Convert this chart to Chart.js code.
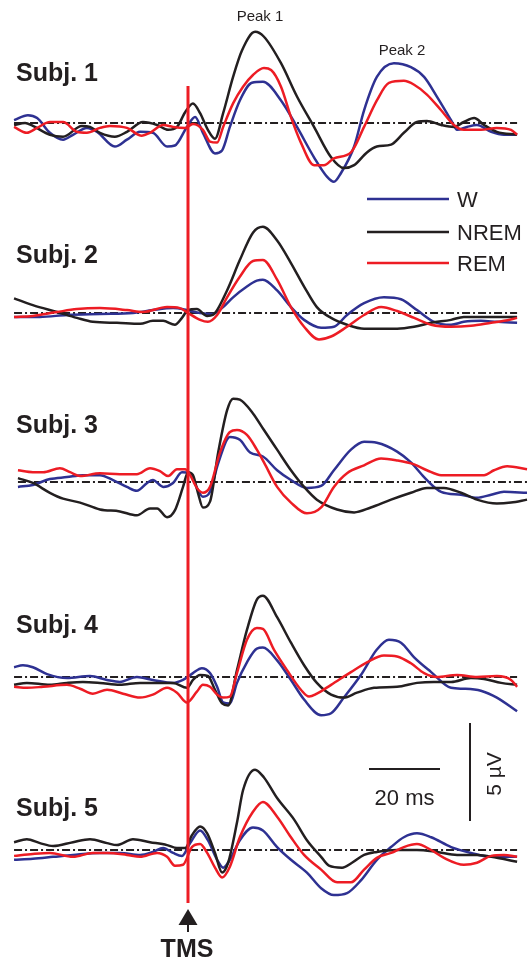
<!DOCTYPE html>
<html>
<head>
<meta charset="utf-8">
<script src="https://cdn.jsdelivr.net/npm/chart.js@4.4.1/dist/chart.umd.min.js"></script>
<style>
  html, body { margin: 0; padding: 0; background: #fff; }
  #wrap { position: relative; width: 528px; height: 964px; }
</style>
</head>
<body>
<div id="wrap"><canvas id="tep"></canvas></div>
<script>
// TMS-evoked potentials, 5 subjects x 3 vigilance states
// time in ms (0 = TMS pulse), amplitude in microvolts relative to each baseline

const subjects = ['Subj. 1', 'Subj. 2', 'Subj. 3', 'Subj. 4', 'Subj. 5'];
const states = ['W', 'NREM', 'REM'];
const peakLabels = ['Peak 1', 'Peak 2'];
const scaleTime = 20;   // ms
const scaleAmp = 5;     // µV

const subj1W = [[-49.0,0.15],[-45.1,0.4],[-42.5,0.25],[-38.9,-0.5],[-35.2,-0.85],[-32.4,-0.6],[-28.5,-0.25],[-25.6,-0.45],[-20.6,-1.2],[-17.2,-0.85],[-13.5,-0.45],[-9.9,-0.5],[-5.9,-1.2],[-3.7,-1.15],[-0.3,-0.2],[2.0,0.3],[4.2,-0.5],[7.6,-1.55],[9.6,-1.4],[11.8,-0.2],[14.6,1.15],[18.0,2.05],[21.1,2.1],[26.2,1.15],[30.7,-0.2],[35.5,-1.75],[39.2,-2.75],[41.1,-3.0],[43.1,-2.55],[46.8,-1.2],[49.6,0.65],[53.2,2.35],[58.0,3.05],[62.8,2.85],[66.5,2.35],[70.1,1.35],[74.1,0.15],[75.8,-0.35],[78.6,-0.2],[81.4,-0.1],[85.4,-0.45],[89.0,-0.6],[92.7,-0.6]];
const subj1NREM = [[-49.0,-0.1],[-45.9,0],[-43.7,-0.15],[-38.9,-0.6],[-35.2,-0.7],[-29.9,-0.15],[-27.6,-0.2],[-24.8,-0.5],[-20.6,-0.7],[-17.2,-0.45],[-12.7,0.05],[-8.7,-0.1],[-5.6,-0.35],[-3.1,-0.2],[-0.8,0.55],[1.4,1.0],[3.4,0.5],[5.6,-0.35],[7.6,-0.8],[9.9,0.5],[12.7,2.35],[15.2,3.7],[18.9,4.65],[21.4,4.4],[26.2,3.05],[30.7,1.35],[35.5,-0.2],[40.3,-1.75],[43.9,-2.3],[46.8,-2.15],[50.4,-1.5],[53.2,-1.2],[57.2,-1.1],[60.8,-0.5],[64.5,0.05],[67.3,0.1],[71.3,-0.1],[74.9,-0.2],[77.7,0.05],[80.6,0.25],[83.4,-0.1],[87.0,-0.45],[92.7,-0.6]];
const subj1REM = [[-49.0,-0.2],[-45.4,-0.5],[-42.5,-0.25],[-38.9,0.05],[-35.2,0.05],[-31.3,-0.45],[-28.5,-0.5],[-24.8,-0.25],[-22.0,-0.15],[-17.2,-0.25],[-13.0,-0.65],[-10.7,-0.5],[-7.0,-0.1],[-4.2,-0.2],[-0.8,-0.25],[1.4,-0.05],[4.2,-0.35],[6.2,-0.95],[8.2,-1.0],[9.9,-0.2],[12.7,1.0],[15.5,1.85],[18.3,2.45],[21.4,2.8],[23.4,2.7],[26.2,1.85],[29.0,0.3],[31.8,-1.0],[35.5,-2.15],[38.3,-2.15],[41.1,-1.8],[45.9,-1.5],[49.6,-0.2],[53.2,1.15],[56.6,2.05],[60.8,2.15],[63.7,1.95],[67.3,1.45],[71.3,0.65],[74.9,-0.1],[77.7,-0.35],[82.5,-0.35],[87.0,-0.25],[91.0,-0.35],[92.7,-0.6]];

const subj2W = [[-49.0,-0.2],[-41.7,-0.2],[-34.1,-0.1],[-24.8,-0.05],[-15.5,0],[-9.9,0.15],[-4.2,0.25],[-0.3,0.15],[3.4,0],[7.0,-0.05],[9.9,0.3],[12.7,0.8],[16.6,1.35],[19.4,1.65],[21.1,1.7],[25.1,1.15],[29.0,0.3],[32.7,-0.35],[37.5,-0.75],[41.1,-0.7],[44.8,-0.1],[49.6,0.5],[55.2,0.8],[60.0,0.7],[64.5,0.15],[69.3,-0.45],[74.1,-0.6],[77.7,-0.45],[82.5,-0.4],[87.0,-0.45],[92.7,-0.5]];
const subj2NREM = [[-49.0,0.75],[-43.7,0.4],[-36.9,0.05],[-31.3,-0.25],[-26.8,-0.45],[-20.0,-0.5],[-13.5,-0.55],[-9.9,-0.4],[-7.0,-0.4],[-3.7,-0.6],[-1.7,-0.25],[0,0.15],[2.5,0.2],[5.4,-0.15],[7.0,-0.1],[11.0,1.15],[14.6,2.7],[18.3,4.1],[21.1,4.4],[25.1,3.7],[29.0,2.55],[32.7,1.35],[36.3,0.3],[40.3,-0.25],[44.8,-0.6],[49.6,-0.8],[58.9,-0.8],[63.7,-0.7],[68.5,-0.5],[74.1,-0.35],[77.7,-0.2],[82.5,-0.2],[92.7,-0.2]];
const subj2REM = [[-49.0,-0.2],[-43.7,-0.15],[-36.9,0.05],[-31.3,0.2],[-24.8,0.25],[-17.2,0.15],[-12.7,0.05],[-5.9,0.3],[-2.3,0.25],[0,0],[3.4,-0.35],[5.6,-0.45],[8.2,-0.1],[11.0,0.8],[14.6,1.85],[18.3,2.65],[21.1,2.7],[25.1,1.7],[29.0,0.3],[32.7,-0.7],[36.9,-1.35],[40.3,-1.2],[44.8,-0.7],[49.6,-0.1],[54.4,0.3],[58.9,0.1],[63.7,-0.25],[68.5,-0.6],[74.1,-0.7],[79.7,-0.65],[85.4,-0.5],[89.0,-0.4],[92.7,-0.25]];

const subj3W = [[-47.9,-0.25],[-43.7,-0.15],[-38.9,0.15],[-34.1,0.25],[-29.6,0.35],[-24.8,0.35],[-21.1,0.1],[-17.2,-0.25],[-14.4,-0.45],[-11.5,-0.05],[-9.9,0.1],[-7.0,-0.25],[-4.2,-0.05],[-1.7,0.5],[0.6,0.45],[2.5,-0.3],[4.2,-0.75],[6.2,-0.5],[8.5,0.95],[11.8,2.3],[14.6,2.15],[17.5,1.5],[21.1,1.3],[25.1,0.6],[29.0,0.1],[33.5,-0.3],[37.5,-0.2],[41.1,0.6],[45.9,1.65],[49.6,2.05],[53.2,2.0],[58.9,1.55],[62.8,1.0],[66.5,0.25],[71.3,-0.5],[76.9,-0.65],[81.4,-0.8],[85.4,-0.65],[89.0,-0.5],[95.5,-0.55]];
const subj3NREM = [[-47.9,0.2],[-43.7,-0.05],[-38.9,-0.55],[-35.2,-0.85],[-30.4,-1.05],[-24.8,-1.4],[-19.2,-1.5],[-14.4,-1.7],[-10.7,-1.35],[-8.7,-1.35],[-5.9,-1.8],[-3.7,-1.45],[-1.4,-0.25],[0,0.5],[1.4,0.35],[2.8,-0.55],[4.2,-1.3],[6.2,-1.0],[8.5,1.5],[11.0,3.65],[12.7,4.25],[14.6,4.2],[18.3,3.5],[21.4,2.65],[25.1,1.65],[29.0,0.6],[32.7,-0.25],[36.3,-0.9],[42.0,-1.4],[46.8,-1.55],[51.5,-1.3],[57.2,-0.9],[62.8,-0.55],[67.3,-0.3],[72.1,-0.3],[76.9,-0.55],[81.4,-0.9],[87.0,-1.1],[91.0,-1.05],[95.5,-0.9]];
const subj3REM = [[-47.9,0.6],[-43.7,0.5],[-40.8,0.5],[-36.1,0.7],[-33.2,0.5],[-30.4,0.3],[-24.8,0.45],[-19.2,0.4],[-14.4,0.4],[-10.7,0.7],[-7.9,0.55],[-5.6,0.3],[-3.1,0.65],[-0.8,0.65],[0.6,0.35],[2.5,-0.3],[4.2,-0.55],[6.2,-0.25],[9.0,1.5],[11.8,2.55],[13.8,2.65],[16.6,2.4],[19.4,1.65],[21.4,1.0],[25.1,-0.25],[29.0,-1.05],[33.5,-1.6],[37.5,-1.3],[41.1,-0.25],[44.8,0.45],[49.6,0.85],[54.4,1.2],[58.9,1.1],[63.7,0.9],[67.3,0.6],[71.3,0.35],[77.7,0.35],[83.4,0.35],[86.2,0.6],[89.9,0.8],[95.5,0.65]];

const subj4W = [[-49.0,0.5],[-46.5,0.6],[-43.7,0.5],[-39.7,0.15],[-34.1,-0.05],[-27.6,0.05],[-22.8,-0.15],[-19.2,-0.25],[-14.4,0],[-9.9,-0.15],[-4.2,-0.3],[-1.4,-0.15],[1.4,0.2],[3.9,0.45],[6.2,0.2],[8.2,-0.5],[9.9,-1.3],[11.8,-1.35],[13.8,-0.3],[16.6,0.75],[19.4,1.45],[21.1,1.5],[25.1,0.85],[29.0,-0.15],[32.7,-1.15],[37.5,-1.95],[40.3,-1.85],[43.9,-1.05],[48.7,0.1],[53.2,1.4],[56.6,1.9],[60.0,1.75],[63.7,1.0],[68.5,0.25],[74.1,-0.55],[77.7,-0.6],[82.5,-0.7],[87.0,-1.05],[92.7,-1.75]];
const subj4NREM = [[-49.0,-0.4],[-45.4,-0.3],[-38.9,-0.4],[-34.1,-0.3],[-29.6,-0.25],[-24.8,-0.3],[-19.2,-0.4],[-13.5,-0.3],[-7.9,-0.3],[-4.2,-0.3],[-0.3,-0.55],[1.4,-0.15],[3.4,0.1],[5.6,0.05],[7.6,-0.65],[9.6,-1.35],[11.3,-1.45],[13.8,0.35],[16.6,2.4],[19.4,3.95],[21.1,4.15],[25.1,3.05],[29.0,1.75],[32.7,0.6],[36.3,-0.3],[40.3,-0.9],[43.9,-1.05],[47.6,-0.8],[52.4,-0.55],[58.9,-0.5],[64.5,-0.3],[69.3,-0.25],[74.1,-0.25],[79.7,-0.05],[83.4,-0.1],[88.2,-0.3],[92.7,-0.4]];
const subj4REM = [[-49.0,-0.5],[-45.4,-0.55],[-40.8,-0.5],[-34.1,-0.4],[-30.4,-0.6],[-26.8,-0.85],[-22.8,-0.65],[-18.3,-0.85],[-13.5,-1.05],[-9.9,-0.9],[-5.9,-0.55],[-3.1,-0.8],[-0.3,-1.3],[2.5,-0.75],[4.2,-0.4],[6.2,-0.5],[8.2,-0.9],[9.9,-1.05],[11.8,-1.0],[13.8,0.2],[16.6,1.9],[19.4,2.5],[21.1,2.45],[24.2,1.4],[27.9,0.35],[31.8,-0.65],[34.1,-1.0],[36.3,-0.85],[40.3,-0.4],[45.9,0.25],[50.4,0.75],[55.2,1.1],[58.9,1.05],[62.8,0.7],[66.5,0.2],[70.1,0],[75.8,0.1],[81.4,0],[87.0,0.05],[91.0,-0.15],[92.7,-0.5]];

const subj5W = [[-49.0,-0.5],[-43.7,-0.45],[-38.0,-0.35],[-32.4,-0.25],[-24.8,-0.15],[-19.2,-0.15],[-13.5,-0.25],[-9.9,-0.1],[-7.0,0.1],[-4.2,-0.15],[-1.7,-0.3],[0.6,0.35],[3.4,1.0],[5.6,0.5],[8.2,-0.5],[9.9,-0.9],[11.8,-0.5],[14.6,0.5],[18.3,1.15],[21.1,1.0],[25.1,0.15],[29.0,-0.5],[33.5,-1.15],[37.5,-1.95],[41.1,-2.3],[44.8,-2.2],[48.7,-1.55],[53.2,-0.5],[57.2,0.15],[60.8,0.65],[64.5,0.85],[68.5,0.65],[74.1,0.15],[79.7,-0.15],[85.4,-0.35],[92.7,-0.35]];
const subj5NREM = [[-49.0,0.4],[-45.4,0.55],[-41.7,0.35],[-38.0,0.2],[-32.4,0.4],[-27.6,0.55],[-22.8,0.35],[-20.0,0.25],[-15.5,0.55],[-10.7,0.4],[-5.9,0.25],[-3.1,0.1],[-0.8,0.1],[1.1,0.75],[3.4,1.2],[5.4,0.85],[7.6,-0.15],[9.6,-1.15],[11.3,-0.65],[13.8,1.4],[15.5,3.05],[18.9,4.1],[21.4,3.7],[25.1,2.65],[29.9,1.55],[33.5,0.5],[37.5,-0.35],[39.7,-0.8],[43.4,-0.9],[46.2,-0.65],[49.6,-0.25],[53.2,-0.1],[58.9,0],[64.5,0],[70.1,-0.1],[75.8,-0.25],[81.4,-0.25],[87.0,-0.4],[92.7,-0.6]];
const subj5REM = [[-49.0,-0.3],[-43.7,-0.2],[-38.9,-0.15],[-32.4,-0.35],[-26.8,-0.15],[-22.8,-0.15],[-17.2,-0.25],[-13.5,-0.35],[-8.7,-0.15],[-5.9,-0.35],[-3.7,-0.8],[-1.4,-0.75],[1.1,0.15],[3.4,0.3],[5.4,-0.15],[7.6,-0.9],[9.6,-1.4],[11.8,-0.85],[14.6,0.65],[18.3,1.95],[21.1,2.45],[25.1,1.7],[29.0,0.65],[32.7,-0.25],[37.5,-1.0],[42.0,-1.65],[45.9,-1.65],[49.6,-1.0],[53.2,-0.4],[57.2,-0.15],[60.8,0.15],[64.5,0.3],[68.5,0],[72.1,-0.4],[77.7,-0.75],[81.4,-0.65],[85.4,-0.3],[89.0,-0.25],[92.7,-0.35]];

// baseline extent (ms) for each subject
const baselineSpan = [[-49.0, 92.7], [-49.0, 92.7], [-47.9, 95.5], [-49.0, 92.7], [-49.0, 92.7]];

const traces = [
  [subj1W, subj1NREM, subj1REM],
  [subj2W, subj2NREM, subj2REM],
  [subj3W, subj3NREM, subj3REM],
  [subj4W, subj4NREM, subj4REM],
  [subj5W, subj5NREM, subj5REM],
];

// ---- layout / style ----
const PX_PER_MS = 3.55, PX_PER_UV = 19.6, TMS_X = 188;
const W = 528, H = 964;
const baselinePx = [123, 313, 482, 677, 850];
const labelBaselinePx = [81, 263, 433, 633, 816];
const colors = { W: '#2e3192', NREM: '#231f20', REM: '#ed1c24' };
const drawOrder = { W: 3, NREM: 2, REM: 1 };
const textColor = '#231f20';
const SANS = '"Liberation Sans", Arial, sans-serif';

const offsets = baselinePx.map(p => -p / PX_PER_UV);

const datasets = [];
traces.forEach((group, i) => {
  group.forEach((arr, k) => {
    const st = states[k];
    datasets.push({
      label: subjects[i] + ' ' + st,
      data: arr.map(([t, v]) => ({ x: t, y: v + offsets[i] })),
      borderColor: colors[st],
      borderWidth: 2.5,
      pointRadius: 0,
      cubicInterpolationMode: 'monotone',
      order: drawOrder[st],
    });
  });
  datasets.push({
    label: subjects[i] + ' baseline',
    data: baselineSpan[i].map(t => ({ x: t, y: offsets[i] })),
    borderColor: '#231f20',
    borderWidth: 2,
    borderDash: [8, 3, 2, 3],
    pointRadius: 0,
    order: 4,
  });
});

const decorations = {
  id: 'decorations',
  afterDatasetsDraw(chart) {
    const ctx = chart.ctx;
    const xs = chart.scales.x, ys = chart.scales.y;
    const x0 = xs.getPixelForValue(0);
    ctx.save();

    // TMS line
    ctx.strokeStyle = '#ed1c24';
    ctx.lineWidth = 3;
    ctx.beginPath(); ctx.moveTo(x0, 86); ctx.lineTo(x0, 903); ctx.stroke();

    // arrow
    ctx.fillStyle = textColor;
    ctx.beginPath(); ctx.moveTo(x0, 909); ctx.lineTo(x0 + 9.5, 925); ctx.lineTo(x0 - 9.5, 925); ctx.closePath(); ctx.fill();
    ctx.strokeStyle = textColor; ctx.lineWidth = 2;
    ctx.beginPath(); ctx.moveTo(x0, 924); ctx.lineTo(x0, 932); ctx.stroke();
    ctx.font = 'bold 25px ' + SANS;
    ctx.textAlign = 'center'; ctx.textBaseline = 'alphabetic';
    ctx.fillText('TMS', x0 - 1, 957);

    // subject labels
    ctx.textAlign = 'left';
    subjects.forEach((s, i) => ctx.fillText(s, 16, labelBaselinePx[i]));

    // peak labels
    ctx.font = '15px ' + SANS;
    ctx.textAlign = 'center';
    ctx.fillText(peakLabels[0], 260, 21);
    ctx.fillText(peakLabels[1], 402, 55);

    // legend
    const legY = [199, 232, 263];
    ctx.font = '22px ' + SANS;
    ctx.textAlign = 'left';
    states.forEach((st, k) => {
      ctx.strokeStyle = colors[st]; ctx.lineWidth = 2.5;
      ctx.beginPath(); ctx.moveTo(367, legY[k]); ctx.lineTo(449, legY[k]); ctx.stroke();
      ctx.fillStyle = textColor;
      ctx.fillText(st, 457, legY[k] + 8);
    });

    // scale bars
    const lenX = xs.getPixelForValue(scaleTime) - xs.getPixelForValue(0);
    const lenY = ys.getPixelForValue(0) - ys.getPixelForValue(scaleAmp);
    ctx.strokeStyle = textColor; ctx.lineWidth = 2;
    ctx.beginPath(); ctx.moveTo(369, 769); ctx.lineTo(369 + lenX, 769); ctx.stroke();
    ctx.beginPath(); ctx.moveTo(470, 723); ctx.lineTo(470, 723 + lenY); ctx.stroke();
    ctx.font = '22px ' + SANS;
    ctx.textAlign = 'center';
    ctx.fillText(scaleTime + ' ms', 369 + lenX / 2, 805);
    ctx.save();
    ctx.translate(501, 723 + lenY / 2 + 2);
    ctx.rotate(-Math.PI / 2);
    ctx.font = '21px ' + SANS;
    ctx.fillText(scaleAmp + ' \u00b5V', 0, 0);
    ctx.restore();

    ctx.restore();
  }
};

new Chart(document.getElementById('tep'), {
  type: 'line',
  data: { datasets },
  options: {
    responsive: true,
    maintainAspectRatio: false,
    animation: false,
    layout: { padding: 0 },
    plugins: { legend: { display: false }, tooltip: { enabled: false } },
    scales: {
      x: { type: 'linear', display: false, min: -TMS_X / PX_PER_MS, max: (W - TMS_X) / PX_PER_MS },
      y: { type: 'linear', display: false, min: -H / PX_PER_UV, max: 0 },
    },
  },
  plugins: [decorations],
});
</script>
</body>
</html>
